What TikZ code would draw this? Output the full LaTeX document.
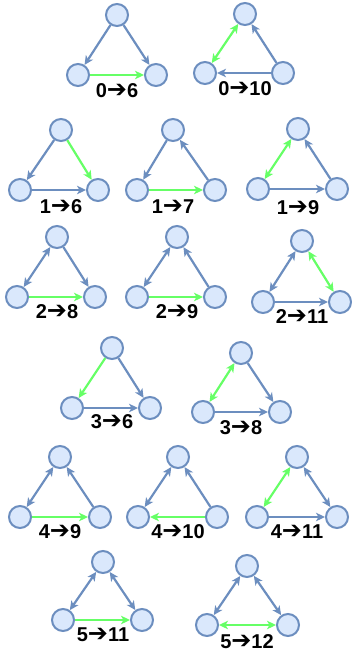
\documentclass[tikz,border=0pt]{standalone}
\usepackage{fontspec}
\setmainfont{Liberation Sans}
\newfontfamily\arrfont{DejaVu Sans}
\usetikzlibrary{arrows.meta}
\definecolor{nodeblue}{HTML}{6C8EBF}
\definecolor{nodefill}{HTML}{DAE8FC}
\definecolor{edgegreen}{HTML}{66FF66}
\tikzset{
 vtx/.style={circle,draw=nodeblue,fill=nodefill,line width=2pt,minimum size=22pt,inner sep=0pt},
 be/.style={draw=nodeblue,line width=2.2pt},
 ge/.style={draw=edgegreen,line width=2.2pt},
 lbl/.style={font=\bfseries\fontsize{20}{20}\selectfont,inner sep=0pt},
 >={Stealth[length=9pt,width=8.5pt,inset=2.5pt]}
}
\newcommand\tri[9]{%
 \node[vtx] (#1t) at (#2,#3) {};
 \node[vtx] (#1l) at (#4,#5) {};
 \node[vtx] (#1r) at (#6,#7) {};
 \node[lbl] (#1x) at (#2,#8) {#9};
}
\newcommand\arr{{\arrfont\bfseries\fontsize{24}{24}\selectfont ➔}}
\begin{document}
\begin{tikzpicture}[x=1pt,y=-1pt]
\useasboundingbox (0,0) rectangle (352,653);
\tri{a}{117}{15}{78}{75}{156}{75}{91}{0\arr6}
\tri{b}{245}{14}{205}{73}{283}{73}{89}{0\arr10}
\tri{c}{61}{130}{20}{190}{98}{190}{207}{1\arr6}
\tri{d}{173}{130}{137}{190}{215}{190}{207}{1\arr7}
\tri{e}{298}{129}{258}{189}{337}{189}{208}{1\arr9}
\tri{f}{57}{237}{17}{297}{95}{297}{312}{2\arr8}
\tri{g}{177}{237}{137}{297}{215}{297}{312}{2\arr9}
\tri{h}{302}{241}{263}{302}{340}{302}{317}{2\arr11}
\tri{i}{112}{348}{72}{408}{150}{408}{422}{3\arr6}
\tri{j}{241}{353}{203}{412}{280}{412}{428}{3\arr8}
\tri{k}{60}{457}{20}{517}{100}{517}{532}{4\arr9}
\tri{l}{178}{457}{138}{517}{217}{517}{532}{4\arr10}
\tri{m}{297}{457}{257}{517}{337}{517}{532}{4\arr11}
\tri{n}{103}{562}{63}{620}{142}{620}{635}{5\arr11}
\tri{o}{247}{566}{207}{625}{288}{625}{642}{5\arr12}
% 0->6
\draw[be,->] (at) -- (al);
\draw[be,->] (at) -- (ar);
\draw[ge,->] (al) -- (ar);
% 0->10
\draw[ge,<->] (bt) -- (bl);
\draw[be,->] (br) -- (bt);
\draw[be,->] (br) -- (bl);
% 1->6
\draw[be,->] (ct) -- (cl);
\draw[ge,->] (ct) -- (cr);
\draw[be,->] (cl) -- (cr);
% 1->7
\draw[be,->] (dt) -- (dl);
\draw[be,->] (dr) -- (dt);
\draw[ge,->] (dl) -- (dr);
% 1->9
\draw[ge,<->] (et) -- (el);
\draw[be,->] (er) -- (et);
\draw[be,->] (el) -- (er);
% 2->8
\draw[be,<->] (ft) -- (fl);
\draw[be,->] (ft) -- (fr);
\draw[ge,->] (fl) -- (fr);
% 2->9
\draw[be,<->] (gt) -- (gl);
\draw[be,->] (gr) -- (gt);
\draw[ge,->] (gl) -- (gr);
% 2->11
\draw[be,<->] (ht) -- (hl);
\draw[ge,<->] (ht) -- (hr);
\draw[be,->] (hl) -- (hr);
% 3->6
\draw[ge,->] (it) -- (il);
\draw[be,->] (it) -- (ir);
\draw[be,->] (il) -- (ir);
% 3->8
\draw[ge,<->] (jt) -- (jl);
\draw[be,->] (jt) -- (jr);
\draw[be,->] (jl) -- (jr);
% 4->9
\draw[be,<->] (kt) -- (kl);
\draw[be,->] (kr) -- (kt);
\draw[ge,->] (kl) -- (kr);
% 4->10
\draw[be,<->] (lt) -- (ll);
\draw[be,->] (lr) -- (lt);
\draw[ge,->] (lr) -- (ll);
% 4->11
\draw[ge,<->] (mt) -- (ml);
\draw[be,<->] (mt) -- (mr);
\draw[be,->] (ml) -- (mr);
% 5->11
\draw[be,<->] (nt) -- (nl);
\draw[be,<->] (nt) -- (nr);
\draw[ge,->] (nl) -- (nr);
% 5->12
\draw[be,<->] (ot) -- (ol);
\draw[be,<->] (ot) -- (or);
\draw[ge,<->] (ol) -- (or);
\end{tikzpicture}
\end{document}
